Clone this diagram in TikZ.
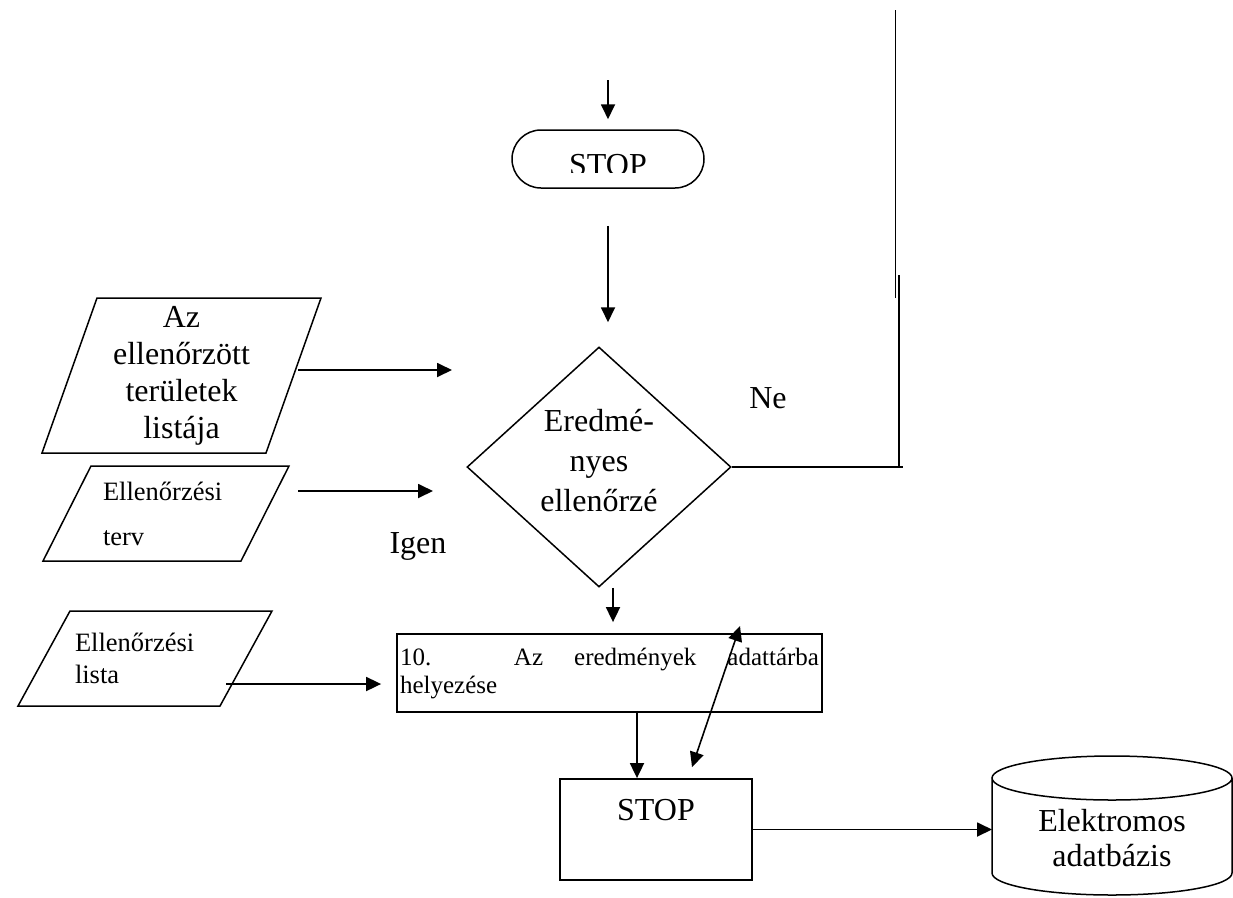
\documentclass[tikz,border=0pt]{standalone}
\usepackage{fontspec}
\setmainfont{Liberation Serif}
\usetikzlibrary{shapes.geometric,arrows.meta}

\newcommand{\bigtext}{\fontsize{32pt}{35pt}\selectfont}
\newcommand{\smalltext}{\fontsize{26.5pt}{32pt}\selectfont}

\tikzstyle{flow}=[line width=1.8pt, -{Triangle[length=15pt,width=14pt]}]
\tikzstyle{flowboth}=[line width=1.6pt, {Triangle[length=15pt,width=14pt]}-{Triangle[length=15pt,width=14pt]}]
\tikzstyle{terminal}=[
        draw,
        line width = 1.5pt,
        rectangle,
        rounded corners = 29pt,
        minimum width = 192pt,
        minimum height = 58pt
    ]
\tikzstyle{decision}=[
        draw,
        line width = 1.5pt,
        diamond,
        inner sep = 0pt,
        minimum width = 264pt,
        minimum height = 240pt
    ]

\begin{document}
\begin{tikzpicture}[x=1pt, y=1pt,
        process/.style = {draw, line width=1.8pt, rectangle},
        io/.style = {rectangle, outer sep=0pt, inner ysep=0pt},
        store/.style = {rectangle, outer sep=0pt, minimum width=240pt, minimum height=95pt},
        plain/.style = {line width=1.8pt}]
        \useasboundingbox (0,0) rectangle (1233,-897);

        % upper part
        \coordinate (in0) at (608,-80);
        \node[terminal] (start) at (608,-159) {};
        \begin{scope}
            \clip (start.north west) rectangle (704,-172);
            \node[anchor=base, font=\bigtext] (stoptext) at (608,-175) {STOP};
        \end{scope}
        \node[decision, label={[font=\fontsize{32pt}{40pt}\selectfont, align=center, yshift=6pt]center:Eredmé-\\nyes\\ellenőrzé}] (dec) at (599,-467) {};

        \draw[flow] (in0) -- ([yshift=10pt]start.north);
        \draw[flow] ([yshift=-37pt]start.south) -- ([xshift=9pt,yshift=24pt]dec.north);

        % Ne branch
        \node[anchor=base, font=\bigtext] (ne) at (768,-408) {Ne};
        \node[anchor=base, font=\bigtext] (igen) at (418,-553) {Igen};
        \coordinate (corner) at (903,-467);
        \coordinate (up1bot) at (899,-467);
        \coordinate (up1top) at (899,-275);
        \coordinate (up2bot) at (895.5,-298);
        \coordinate (up2top) at (895.5,-10);
        \draw[plain] (dec.east) -- (corner);
        \draw[plain] (up1bot) -- (up1top);
        \draw[plain] (up2bot) -- (up2top);

        % inputs
        \node[io, minimum width=224pt, minimum height=155pt, font=\fontsize{32pt}{37pt}\selectfont, align=center] (list) at (181.5,-375.5) {Az\\ellenőrzött\\területek\\listája};
        \node[io, minimum width=198pt, minimum height=95pt, inner xsep=36pt, text width=126pt, align=left, font=\fontsize{26.5pt}{45pt}\selectfont] (terv) at (166,-513.5) {Ellenőrzési\\terv};
        \node[io, minimum width=202pt, minimum height=95pt, inner xsep=31pt, text width=140pt, align=left, font=\smalltext] (lista) at (145,-658.5) {Ellenőrzési\\lista};
        \foreach \n/\s in {list/27.5, terv/24, lista/26}
            \draw[line width=1.5pt] ([xshift=\s pt]\n.north west) -- ([xshift=\s pt]\n.north east)
                -- ([xshift=-\s pt]\n.south east) -- ([xshift=-\s pt]\n.south west) -- cycle;

        \coordinate (in1) at (452,-370);
        \coordinate (in2) at (433,-491);
        \draw[flow] ([xshift=4.5pt,yshift=5.5pt]list.east) -- (in1);
        \draw[flow] ([xshift=33pt,yshift=22.5pt]terv.east) -- (in2);

        % lower part
        \node[process, minimum width=425pt, minimum height=78pt, text width=419pt, inner xsep=3pt, align=justify, font=\fontsize{25pt}{28pt}\selectfont] (proc) at (609.5,-673) {10. Az eredmények adattárba\linebreak helyezése};
        \node[process, minimum width=192pt, minimum height=101pt, font=\bigtext, text height=21pt, text depth=40pt] (stop) at (656,-829.5) {STOP};
        \node[store, label={[font=\bigtext, align=center, yshift=-13pt]center:Elektromos\\adatbázis}] (db) at (1112,-825.5) {};
        \draw[line width=1.5pt] (db.north west) -- (db.south west)
            arc[start angle=180, end angle=360, x radius=120pt, y radius=22pt] -- (db.north east)
            arc[start angle=0, end angle=360, x radius=120pt, y radius=22pt];

        \draw[flow] ([xshift=14pt]dec.south) -- ([xshift=3.5pt,yshift=11pt]proc.north);
        \draw[flow] ([xshift=-20pt,yshift=-25.5pt]lista.east) -- ([xshift=-15pt,yshift=-11pt]proc.west);
        \draw[flow] ([xshift=27.5pt,yshift=2pt]proc.south) -- ([xshift=-19pt]stop.north);
        \draw[flowboth] ([xshift=130.5pt,yshift=7pt]proc.north) -- ([xshift=36pt,yshift=11pt]stop.north);
        \draw[flow] (stop.east) -- (stop.east -| db.west);
\end{tikzpicture}
\end{document}
